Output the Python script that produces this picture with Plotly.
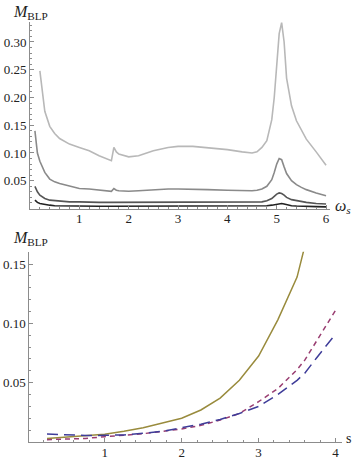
import plotly.graph_objects as go
from plotly.subplots import make_subplots

# top panel: M_BLP vs omega_s
omega = [0.1, 0.15, 0.2, 0.3, 0.4, 0.5, 0.6, 0.8, 1.0, 1.2, 1.4, 1.6, 1.65, 1.7, 1.75,
         1.8, 2.0, 2.2, 2.5, 2.8, 3.0, 3.3, 3.6, 4.0, 4.3, 4.5, 4.6, 4.7, 4.8, 4.9,
         4.95, 5.0, 5.05, 5.1, 5.15, 5.2, 5.3, 5.4, 5.5, 5.6, 5.8, 6.0]
m_light = [None, None, 0.248, 0.175, 0.148, 0.135, 0.126, 0.116, 0.110, 0.104, 0.095,
           0.087, 0.086, 0.110, 0.102, 0.098, 0.093, 0.095, 0.104, 0.110, 0.112, 0.112,
           0.110, 0.106, 0.102, 0.100, 0.102, 0.110, 0.122, 0.160, 0.200, 0.260, 0.315,
           0.335, 0.300, 0.235, 0.185, 0.158, 0.140, 0.125, 0.102, 0.078]
m_mid = [0.140, 0.100, 0.085, 0.065, 0.053, 0.048, 0.045, 0.041, 0.036, 0.035, 0.033,
         0.031, 0.031, 0.036, 0.033, 0.032, 0.031, 0.032, 0.034, 0.035, 0.035, 0.035,
         0.034, 0.033, 0.032, 0.032, 0.033, 0.035, 0.040, 0.052, 0.065, 0.080, 0.090,
         0.088, 0.075, 0.063, 0.050, 0.043, 0.038, 0.034, 0.028, 0.023]
m_dark = [0.040, 0.030, 0.024, 0.018, 0.015, 0.014, 0.013, 0.012, 0.012, 0.011, 0.011,
          0.011, 0.011, 0.012, 0.011, 0.011, 0.011, 0.011, 0.011, 0.011, 0.011, 0.011,
          0.011, 0.011, 0.011, 0.011, 0.011, 0.012, 0.014, 0.018, 0.022, 0.026, 0.028,
          0.027, 0.024, 0.020, 0.016, 0.014, 0.012, 0.011, 0.009, 0.008]
m_black = [0.015, 0.011, 0.009, 0.007, 0.006, 0.005, 0.0048, 0.0045, 0.0042, 0.004, 0.004,
           0.004, 0.004, 0.0045, 0.004, 0.004, 0.004, 0.004, 0.004, 0.004, 0.004, 0.004,
           0.004, 0.004, 0.004, 0.004, 0.004, 0.0045, 0.005, 0.006, 0.007, 0.008, 0.009,
           0.009, 0.008, 0.007, 0.005, 0.0045, 0.004, 0.0038, 0.0034, 0.003]

# bottom panel: M_BLP vs s
s_vals = [0.25, 0.5, 0.75, 1.0, 1.25, 1.5, 1.75, 2.0, 2.25, 2.5, 2.75, 3.0, 3.25, 3.5,
          3.6, 3.75, 4.0]
m_olive = [0.003, 0.004, 0.005, 0.0065, 0.009, 0.012, 0.016, 0.020, 0.027, 0.037, 0.052,
           0.0725, 0.103, 0.139, 0.165, None, None]
m_purple = [0.002, 0.0025, 0.003, 0.0045, 0.0055, 0.007, 0.009, 0.011, 0.014, 0.0185,
            0.024, 0.034, 0.045, 0.061, 0.069, 0.085, 0.111]
m_blue = [0.0067, 0.006, 0.0055, 0.0056, 0.006, 0.0073, 0.009, 0.012, 0.015, 0.019, 0.024,
          0.030, 0.040, 0.052, 0.058, 0.0706, 0.091]

W, H = 353, 462
def px(x):
    return x / W
def py(y):
    return 1 - y / H

SERIF = "Liberation Serif"

fig = make_subplots(rows=2, cols=1)

for ys, col in [(m_light, "#b8b8b8"), (m_mid, "#8a8a8a"), (m_dark, "#555555"),
                (m_black, "#222222")]:
    fig.add_trace(go.Scatter(x=omega, y=ys, mode="lines", line=dict(color=col, width=1.6),
                             showlegend=False), row=1, col=1)

fig.add_trace(go.Scatter(x=s_vals, y=m_olive, mode="lines",
                         line=dict(color="#998b3d", width=1.5), showlegend=False), row=2, col=1)
fig.add_trace(go.Scatter(x=s_vals, y=m_purple, mode="lines",
                         line=dict(color="#993d71", width=1.5, dash="5px,4px"),
                         showlegend=False), row=2, col=1)
fig.add_trace(go.Scatter(x=s_vals, y=m_blue, mode="lines",
                         line=dict(color="#3f3d99", width=1.5, dash="11px,6px"),
                         showlegend=False), row=2, col=1)

tf = dict(family=SERIF, size=13, color="#222222")
ax = dict(showgrid=False, zeroline=False, showline=True, linecolor="#8c8c8c", linewidth=1,
          ticks="inside", ticklen=4, tickcolor="#8c8c8c", tickfont=tf, automargin=False)

fig.update_xaxes(ax, row=1, col=1, domain=[px(30), px(330)], range=[0, 6.08],
                 tickvals=[1, 2, 3, 4, 5, 6], ticklabelstandoff=-2,
                 minor=dict(ticks="inside", ticklen=2, dtick=0.2, tickcolor="#8c8c8c"))
fig.update_yaxes(ax, row=1, col=1, domain=[py(208.5), py(22)], range=[0, 0.336],
                 tickvals=[0.05, 0.10, 0.15, 0.20, 0.25, 0.30], tickformat=".2f",
                 minor=dict(ticks="inside", ticklen=2, dtick=0.01, tickcolor="#8c8c8c"))
fig.update_xaxes(ax, row=2, col=1, domain=[px(29.3), px(341.7)], range=[0.02, 4.08],
                 tickvals=[1, 2, 3, 4], ticklabelstandoff=-2,
                 minor=dict(ticks="inside", ticklen=2, dtick=0.2, tickcolor="#8c8c8c"))
fig.update_yaxes(ax, row=2, col=1, domain=[py(442), py(251.7)], range=[0, 0.1604],
                 tickvals=[0.05, 0.10, 0.15], tickformat=".2f",
                 minor=dict(ticks="inside", ticklen=2, dtick=0.01, tickcolor="#8c8c8c"))

lab = dict(family=SERIF, size=16, color="#222222")
fig.add_annotation(x=px(11), y=py(12), xref="paper", yref="paper", xanchor="left",
                   yanchor="middle", showarrow=False, font=lab,
                   text="<i>M</i><sub>BLP</sub>")
fig.add_annotation(x=px(11), y=py(238), xref="paper", yref="paper", xanchor="left",
                   yanchor="middle", showarrow=False, font=lab,
                   text="<i>M</i><sub>BLP</sub>")
fig.add_annotation(x=px(333), y=py(206), xref="paper", yref="paper", xanchor="left",
                   yanchor="middle", showarrow=False, font=lab,
                   text="<i>ω</i><sub><i>s</i></sub>")
fig.add_annotation(x=px(344), y=py(438), xref="paper", yref="paper", xanchor="left",
                   yanchor="middle", showarrow=False,
                   font=dict(family=SERIF, size=14, color="#222222"), text="s")

fig.update_layout(width=W, height=H, font=dict(family=SERIF, color="#222222"),
                  margin=dict(l=0, r=0, t=0, b=0, pad=0, autoexpand=False),
                  plot_bgcolor="white", paper_bgcolor="white")
# drop the page's default body margin so the figure sits in the window corner
fig.write_html("out.html", config={"displayModeBar": False},
               post_script="document.body.style.margin='0';")
